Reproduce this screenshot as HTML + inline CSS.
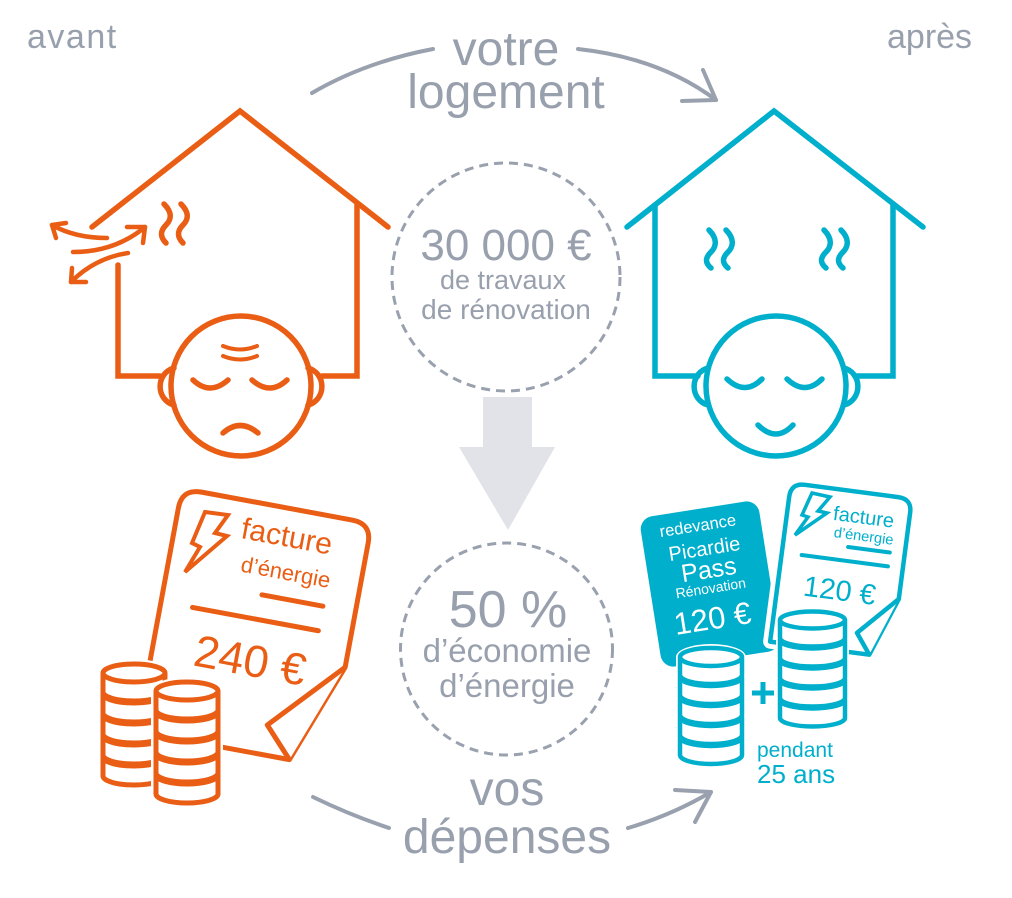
<!DOCTYPE html>
<html>
<head>
<meta charset="utf-8">
<style>
html,body{margin:0;padding:0;background:#fff;}
svg{display:block;}
text{font-family:"Liberation Sans",sans-serif;}
</style>
</head>
<body>
<svg width="1012" height="898" viewBox="0 0 1012 898" xmlns="http://www.w3.org/2000/svg">
<rect width="1012" height="898" fill="#fff"/>

<!-- corner labels -->
<text x="27" y="48" font-size="34" fill="#99a0ad" letter-spacing="1.5">avant</text>
<text x="887" y="48" font-size="34" fill="#99a0ad">après</text>

<!-- arcs -->
<g fill="none" stroke="#9aa1ae" stroke-width="4" stroke-linecap="round" stroke-linejoin="round">
<path d="M312,93 Q365,62 433,49"/>
<path d="M578,49 Q660,58 716,100"/>
<path d="M682,101 L716,100 L703,70"/>
<path d="M313,797 Q350,815 389,828"/>
<path d="M628,828 Q672,815 711,792"/>
<path d="M675,790 L711,792 L695,822"/>
</g>
<text x="506" y="65" font-size="48" fill="#99a0ad" text-anchor="middle">votre</text>
<text x="506" y="108" font-size="48" fill="#99a0ad" text-anchor="middle">logement</text>
<text x="507" y="805" font-size="48" fill="#99a0ad" text-anchor="middle">vos</text>
<text x="507" y="853" font-size="48" fill="#99a0ad" text-anchor="middle">dépenses</text>

<!-- center dashed circles -->
<circle cx="506" cy="277" r="114" fill="none" stroke="#9aa1ae" stroke-width="3" stroke-dasharray="9 6"/>
<circle cx="506.5" cy="649" r="106" fill="none" stroke="#9aa1ae" stroke-width="3" stroke-dasharray="9 6"/>
<text x="506" y="260" font-size="44" fill="#99a0ad" text-anchor="middle">30 000 €</text>
<text x="503" y="289" font-size="27" fill="#99a0ad" text-anchor="middle">de travaux</text>
<text x="506" y="319" font-size="28" fill="#99a0ad" text-anchor="middle">de rénovation</text>
<polygon points="483,397 532,397 532,447 555,447 508,530 459,447 483,447" fill="#e1e3e8"/>
<text x="508" y="627" font-size="52" fill="#99a0ad" text-anchor="middle">50 %</text>
<text x="507" y="662" font-size="33" fill="#99a0ad" text-anchor="middle">d’économie</text>
<text x="507" y="697" font-size="33" fill="#99a0ad" text-anchor="middle">d’énergie</text>

<!-- LEFT HOUSE (orange) -->
<g fill="none" stroke="#E95E14" stroke-width="5.5" stroke-linecap="round" stroke-linejoin="miter">
<polyline points="92,227 240,111 388,227"/>
<polyline points="357,205 357,376 322,376"/>
<polyline points="118,265 118,376 160,376"/>
<circle cx="241" cy="386" r="70" fill="#fff"/>
<path d="M174,368 A18,19 0 0 0 174,405"/>
<path d="M308,368 A18,19 0 0 1 308,405"/>
<path d="M193,380 Q210,396 228,380"/>
<path d="M252,380 Q270,396 287,380"/>
<path d="M223,433 Q240,418 258,433"/>
<path d="M223,346 Q240,353 257,346" stroke-width="4"/>
<path d="M223,356 Q240,363 257,356" stroke-width="4"/>
<path d="M164,204 C172,212 172,219 166,225 C160,231 160,237 166,243"/>
<path d="M181,204 C189,212 189,219 183,225 C177,231 177,237 183,243"/>
</g>
<!-- air flow arrows -->
<g fill="none" stroke="#E95E14" stroke-width="4.5" stroke-linecap="round" stroke-linejoin="round">
<path d="M107,238 Q75,238 52,225"/>
<path d="M66,223 L52,225 L56,238"/>
<path d="M73,252 Q115,252 145,227"/>
<path d="M127,227 L145,227 L143,243"/>
<path d="M128,253 Q95,258 71,282"/>
<path d="M86,282 L71,282 L72,268"/>
</g>

<!-- RIGHT HOUSE (teal) -->
<g fill="none" stroke="#00AFCB" stroke-width="5.5" stroke-linecap="round" stroke-linejoin="miter">
<polyline points="627,227 774,111 923,227"/>
<polyline points="655,205 655,376 698,376"/>
<polyline points="893,205 893,376 855,376"/>
<circle cx="776" cy="386" r="70" fill="#fff"/>
<path d="M708,368 A18,19 0 0 0 708,405"/>
<path d="M844,368 A18,19 0 0 1 844,405"/>
<path d="M727,379 Q745,396 762,379"/>
<path d="M787,379 Q805,396 822,379"/>
<path d="M758,425 Q776,443 793,425"/>
<path d="M709,230 C717,238 717,246 711,252 C705,258 705,263 711,268"/>
<path d="M726,230 C734,238 734,246 728,252 C722,258 722,263 728,268"/>
<path d="M824,230 C832,238 832,246 826,252 C820,258 820,263 826,268"/>
<path d="M841,230 C849,238 849,246 843,252 C837,258 837,263 843,268"/>
</g>

<!-- LEFT INVOICE -->
<g transform="translate(182,488.5) rotate(10.5)">
<path d="M0,20 Q0,0 20,0 L173,0 Q193,0 193,20 L193,146 L155,247 L0,247 Z" fill="#fff" stroke="#E95E14" stroke-width="5" stroke-linejoin="round"/>
<path d="M193,146 L127,217 L155,247" fill="#fff" stroke="#E95E14" stroke-width="5" stroke-linejoin="round"/>
<text x="66" y="38" font-size="30" fill="#E95E14">facture</text>
<text x="72" y="71" font-size="22" fill="#E95E14">d’énergie</text>
<path d="M98,90 L160,90 M32,115 L160,115" stroke="#E95E14" stroke-width="5" stroke-linecap="round"/>
<text x="42" y="172" font-size="45" fill="#E95E14">240 €</text>
</g>
<polygon points="205,512 228,515 215,533 227,536 185,572 200,547 192,543" fill="none" stroke="#E95E14" stroke-width="4" stroke-linejoin="miter"/>

<!-- left coins -->
<path d="M98,673 A36,14 0 0 1 170,673 L170,776 A36,14 0 0 1 98,776 Z" fill="#fff"/>
<g fill="#fff" stroke="#E95E14" stroke-width="5" stroke-linejoin="round">
<path d="M103,757 A31,9 0 0 1 165,757 L165,776 A31,9 0 0 1 103,776 Z M103,757 A31,9 0 0 0 165,757"/>
<path d="M103,736 A31,9 0 0 1 165,736 L165,755 A31,9 0 0 1 103,755 Z M103,736 A31,9 0 0 0 165,736"/>
<path d="M103,715 A31,9 0 0 1 165,715 L165,734 A31,9 0 0 1 103,734 Z M103,715 A31,9 0 0 0 165,715"/>
<path d="M103,694 A31,9 0 0 1 165,694 L165,713 A31,9 0 0 1 103,713 Z M103,694 A31,9 0 0 0 165,694"/>
<path d="M103,673 A31,9 0 0 1 165,673 L165,692 A31,9 0 0 1 103,692 Z M103,673 A31,9 0 0 0 165,673"/>
</g>
<path d="M151,691 A36,14 0 0 1 223,691 L223,794 A36,14 0 0 1 151,794 Z" fill="#fff"/>
<g fill="#fff" stroke="#E95E14" stroke-width="5" stroke-linejoin="round">
<path d="M156,775 A31,9 0 0 1 218,775 L218,794 A31,9 0 0 1 156,794 Z M156,775 A31,9 0 0 0 218,775"/>
<path d="M156,754 A31,9 0 0 1 218,754 L218,773 A31,9 0 0 1 156,773 Z M156,754 A31,9 0 0 0 218,754"/>
<path d="M156,733 A31,9 0 0 1 218,733 L218,752 A31,9 0 0 1 156,752 Z M156,733 A31,9 0 0 0 218,733"/>
<path d="M156,712 A31,9 0 0 1 218,712 L218,731 A31,9 0 0 1 156,731 Z M156,712 A31,9 0 0 0 218,712"/>
<path d="M156,691 A31,9 0 0 1 218,691 L218,710 A31,9 0 0 1 156,710 Z M156,691 A31,9 0 0 0 218,691"/>
</g>

<!-- RIGHT: teal card -->
<g transform="translate(710,584) rotate(-9)">
<rect x="-60" y="-76" width="120" height="152" rx="13" fill="#00AFCB"/>
<text x="-3" y="-54" font-size="16.5" fill="#fff" text-anchor="middle">redevance</text>
<text x="0" y="-29" font-size="20" fill="#fff" text-anchor="middle">Picardie</text>
<text x="1" y="-6" font-size="25" fill="#fff" text-anchor="middle">Pass</text>
<text x="0" y="9" font-size="14" fill="#fff" text-anchor="middle">Rénovation</text>
<text x="-3" y="45" font-size="31" fill="#fff" text-anchor="middle">120 €</text>
</g>

<!-- teal invoice -->
<g transform="translate(791,483) rotate(7.5)">
<path d="M0,14 Q0,0 14,0 L108,0 Q122,0 122,14 L122,101 L100,160 L0,160 Z" fill="#fff" stroke="#fff" stroke-width="14" stroke-linejoin="round"/>
<path d="M0,14 Q0,0 14,0 L108,0 Q122,0 122,14 L122,101 L100,160 L0,160 Z" fill="#fff" stroke="#00AFCB" stroke-width="4.5" stroke-linejoin="round"/>
<path d="M122,101 L85,140 L100,160" fill="#fff" stroke="#00AFCB" stroke-width="4.5" stroke-linejoin="round"/>
<text x="46" y="31" font-size="20" fill="#00AFCB">facture</text>
<text x="49" y="48" font-size="14.6" fill="#00AFCB">d’énergie</text>
<path d="M65,56 L107,56 M20,70 L107,70" stroke="#00AFCB" stroke-width="4" stroke-linecap="round"/>
<text x="26" y="110" font-size="29" fill="#00AFCB">120 €</text>
</g>
<polygon points="812,493 830,497 818,511 827,513 795,535 808,517 802,515" fill="none" stroke="#00AFCB" stroke-width="3.5" stroke-linejoin="miter"/>

<!-- teal coins -->
<path d="M676,657 A35,13 0 0 1 746,657 L746,755 A35,13 0 0 1 676,755 Z" fill="#fff"/>
<path d="M776,620 A36.5,12.5 0 0 1 849,620 L849,718 A36.5,12.5 0 0 1 776,718 Z" fill="#fff"/>
<g fill="#fff" stroke="#00AFCB" stroke-width="4.5" stroke-linejoin="round">
<path d="M680,737 A31,9 0 0 1 742,737 L742,755 A31,9 0 0 1 680,755 Z M680,737 A31,9 0 0 0 742,737"/>
<path d="M680,717 A31,9 0 0 1 742,717 L742,735 A31,9 0 0 1 680,735 Z M680,717 A31,9 0 0 0 742,717"/>
<path d="M680,697 A31,9 0 0 1 742,697 L742,715 A31,9 0 0 1 680,715 Z M680,697 A31,9 0 0 0 742,697"/>
<path d="M680,677 A31,9 0 0 1 742,677 L742,695 A31,9 0 0 1 680,695 Z M680,677 A31,9 0 0 0 742,677"/>
<path d="M680,657 A31,9 0 0 1 742,657 L742,675 A31,9 0 0 1 680,675 Z M680,657 A31,9 0 0 0 742,657"/>

<path d="M780,700 A32.5,8.5 0 0 1 845,700 L845,718 A32.5,8.5 0 0 1 780,718 Z M780,700 A32.5,8.5 0 0 0 845,700"/>
<path d="M780,680 A32.5,8.5 0 0 1 845,680 L845,698 A32.5,8.5 0 0 1 780,698 Z M780,680 A32.5,8.5 0 0 0 845,680"/>
<path d="M780,660 A32.5,8.5 0 0 1 845,660 L845,678 A32.5,8.5 0 0 1 780,678 Z M780,660 A32.5,8.5 0 0 0 845,660"/>
<path d="M780,640 A32.5,8.5 0 0 1 845,640 L845,658 A32.5,8.5 0 0 1 780,658 Z M780,640 A32.5,8.5 0 0 0 845,640"/>
<path d="M780,620 A32.5,8.5 0 0 1 845,620 L845,638 A32.5,8.5 0 0 1 780,638 Z M780,620 A32.5,8.5 0 0 0 845,620"/>
</g>
<path d="M752,693 L774,693 M763,682 L763,704" stroke="#00AFCB" stroke-width="5" stroke-linecap="butt"/>
<text x="757" y="757" font-size="21" fill="#00AFCB">pendant</text>
<text x="757" y="783" font-size="26" fill="#00AFCB">25 ans</text>
</svg>
</body>
</html>
